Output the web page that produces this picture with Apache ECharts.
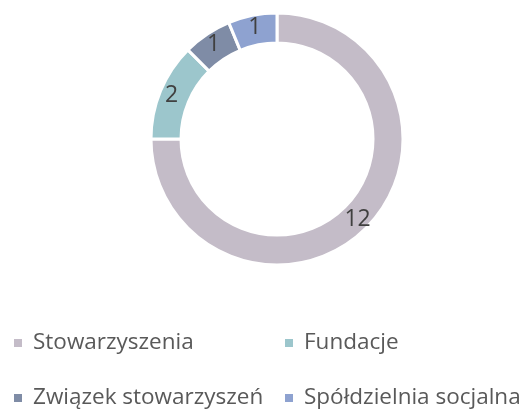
<html>
<head>
    <meta charset="utf-8">
    <script src="https://cdn.jsdelivr.net/npm/echarts@6/dist/echarts.min.js"></script>
</head>
<body style="margin:0">
    <div id="main" style="width:529px; height:414px"></div>
<script type="text/javascript">
    var categories = ['Stowarzyszenia', 'Fundacje', 'Związek stowarzyszeń', 'Spółdzielnia socjalna'];
    var values = [12, 2, 1, 1];
    var colors = ['#c4bcc8', '#9cc6cc', '#7f8ca6', '#8ea2d0'];

    var myChart = echarts.init(document.getElementById('main'));

    var legendText = {
        fontFamily: 'Open Sans',
        fontSize: 22.5,
        lineHeight: 24,
        padding: [0, 0, 0, 5],
        color: '#595959'
    };

    function makeLegend(left, names) {
        return {
            orient: 'vertical',
            left: left,
            top: 331,
            padding: 0,
            itemWidth: 10,
            itemHeight: 10,
            itemGap: 31,
            icon: 'rect',
            textStyle: legendText,
            data: names
        };
    }

    var option = {
        color: colors,
        legend: [
            makeLegend(12, [categories[0], categories[2]]),
            makeLegend(283, [categories[1], categories[3]])
        ],
        series: [{
            type: 'pie',
            center: [277, 139],
            radius: [96, 126],
            startAngle: 90,
            clockwise: true,
            avoidLabelOverlap: false,
            itemStyle: {
                borderColor: '#ffffff',
                borderWidth: 3
            },
            label: {
                show: true,
                position: 'inside',
                formatter: '{c}',
                fontFamily: 'Open Sans',
                fontSize: 23,
                color: '#404040'
            },
            labelLine: { show: false },
            emphasis: { disabled: true },
            data: (function () {
                var res = [];
                for (var i = 0; i < categories.length; i++) {
                    res.push({ name: categories[i], value: values[i] });
                }
                return res;
            })()
        }]
    };

    myChart.setOption(option);
</script>
</body>
</html>
